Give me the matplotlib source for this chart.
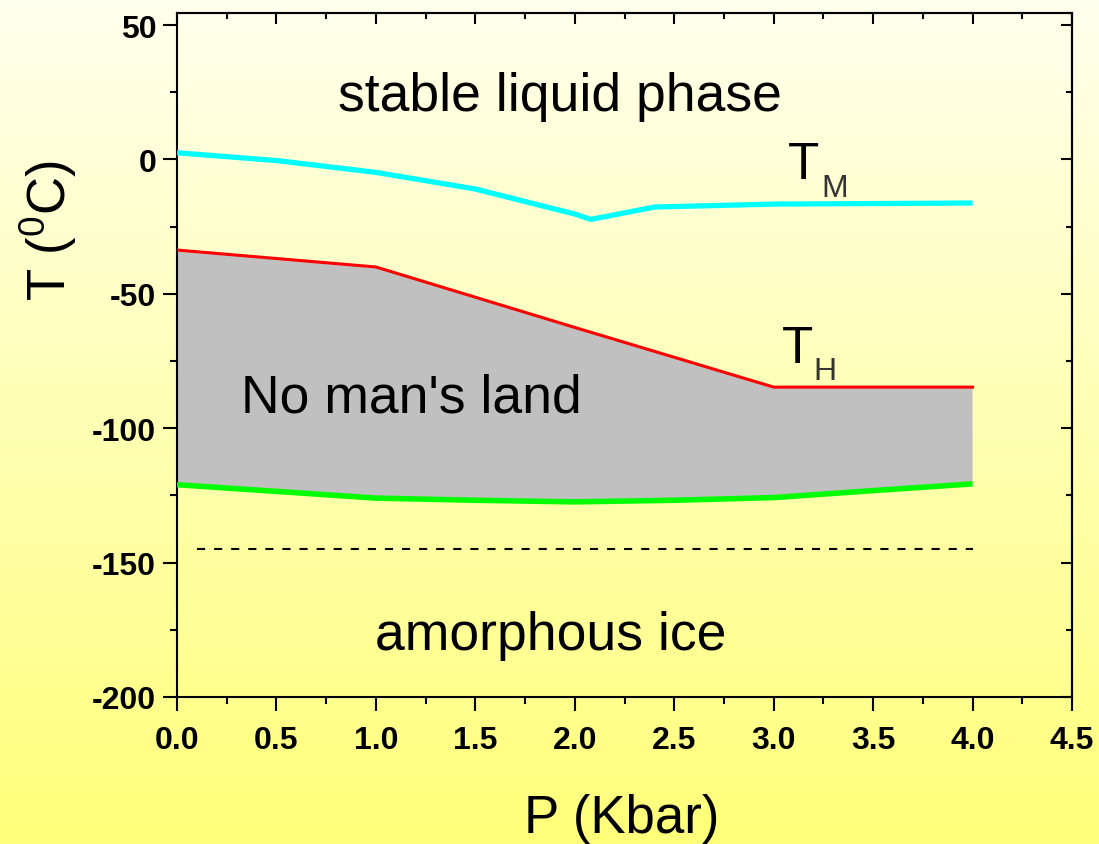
import numpy as np
import matplotlib
matplotlib.use("Agg")
import matplotlib.pyplot as plt
from matplotlib.ticker import MultipleLocator

plt.rcParams['font.family'] = ['Liberation Sans', 'DejaVu Sans']
plt.rcParams['mathtext.fontset'] = 'custom'
plt.rcParams['mathtext.rm'] = 'Liberation Sans'

# Melting line T_M
p_melt = [0.0, 0.5, 1.0, 1.5, 2.0, 2.08, 2.4, 3.0, 3.5, 4.0]
t_melt = [2.5, -0.4, -4.8, -11.0, -20.3, -22.3, -17.7, -16.6, -16.4, -16.2]

# Homogeneous nucleation line T_H
p_hom = [0.0, 1.0, 2.0, 3.0, 4.0]
t_hom = [-33.7, -40.0, -62.5, -84.7, -84.7]

# Lower boundary of no man's land
p_low = [0.0, 0.5, 1.0, 1.5, 2.0, 2.5, 3.0, 3.5, 4.0]
t_low = [-121.0, -123.5, -126.0, -126.8, -127.4, -126.8, -125.8, -123.2, -120.7]

# Glass transition (dashed)
p_glass = [0.1, 4.0]
t_glass = [-144.8, -144.8]

W, H = 1099, 845
fig = plt.figure(figsize=(W / 100, H / 100), dpi=100)

# background gradient
bg = fig.add_axes([0, 0, 1, 1], zorder=-10)
grad = np.linspace(0, 1, 256).reshape(-1, 1)
top = np.array([255, 255, 238]) / 255
bot = np.array([255, 255, 122]) / 255
img = top[None, None, :] * (1 - grad[:, :, None]) + bot[None, None, :] * grad[:, :, None]
bg.imshow(img, aspect='auto', extent=[0, 1, 0, 1], origin='upper')
bg.set_axis_off()

def fx(px):
    return px / W

def fy(py):
    return 1 - py / H

ax = fig.add_axes([fx(177), fy(698), fx(1072) - fx(177), fy(14) - fy(698)])
ax.set_facecolor('none')

# grey region
poly_x = list(p_hom) + list(p_low[::-1])
poly_y = list(t_hom) + list(t_low[::-1])
ax.fill(poly_x, poly_y, color='#c0c0c0', lw=0, zorder=1)

ax.plot(p_melt, t_melt, color='#00ffff', lw=3.8, solid_capstyle='butt', zorder=3)
ax.plot(p_hom, t_hom, color='#ff0000', lw=2.2, zorder=3)
ax.plot(p_low, t_low, color='#00ff00', lw=4.0, solid_capstyle='butt', zorder=3)
ax.plot(p_glass, t_glass, color='black', lw=1.5, dashes=(3.9, 4.3), zorder=3)

ax.set_xlim(0, 4.5)
ax.set_ylim(-200, 54.5)
ax.xaxis.set_major_locator(MultipleLocator(0.5))
ax.xaxis.set_minor_locator(MultipleLocator(0.25))
ax.yaxis.set_major_locator(MultipleLocator(50))
ax.yaxis.set_minor_locator(MultipleLocator(25))
ax.xaxis.set_major_formatter(matplotlib.ticker.FormatStrFormatter('%.1f'))
ax.yaxis.set_major_formatter(matplotlib.ticker.FormatStrFormatter('%d'))

for s in ax.spines.values():
    s.set_linewidth(1.5)

ax.tick_params(which='major', direction='out', length=10, width=1.5, labelsize=23, pad=5)
ax.tick_params(axis='x', which='major', pad=10)
ax.tick_params(which='minor', direction='out', length=5, width=1.5)
for lab in ax.get_xticklabels() + ax.get_yticklabels():
    lab.set_fontweight('bold')

secx = ax.secondary_xaxis('top')
secx.xaxis.set_major_locator(MultipleLocator(0.5))
secx.xaxis.set_minor_locator(MultipleLocator(0.25))
secx.tick_params(which='major', direction='in', length=8, width=1.5, labeltop=False)
secx.tick_params(which='minor', direction='in', length=4, width=1.5)
secx.spines['top'].set_linewidth(1.5)

secy = ax.secondary_yaxis('right')
secy.yaxis.set_major_locator(MultipleLocator(50))
secy.yaxis.set_minor_locator(MultipleLocator(25))
secy.tick_params(which='major', direction='in', length=8, width=1.5, labelright=False)
secy.tick_params(which='minor', direction='in', length=4, width=1.5)
secy.spines['right'].set_linewidth(1.5)

# region labels
ax.text(1.923, 18.4, 'stable liquid phase', fontsize=38.5, ha='center', va='baseline', zorder=5)
ax.text(1.179, -93.6, "No man's land", fontsize=38.5, ha='center', va='baseline', zorder=5)
ax.text(1.88, -182.2, 'amorphous ice', fontsize=38.5, ha='center', va='baseline', zorder=5)

ax.text(3.07, -6.8, 'T', fontsize=37, ha='left', va='baseline', zorder=5)
ax.text(3.24, -13.5, 'M', fontsize=23, ha='left', va='baseline', color='#333333', zorder=5)
ax.text(3.04, -75.2, 'T', fontsize=37, ha='left', va='baseline', zorder=5)
ax.text(3.20, -81.5, 'H', fontsize=23, ha='left', va='baseline', color='#333333', zorder=5)

fig.text(fx(622), fy(833), 'P (Kbar)', fontsize=38, ha='center', va='baseline')
fig.text(fx(48), fy(230), r'T ($\mathregular{^0}$C)', fontsize=38, ha='center', va='center', rotation=90)

fig.savefig('out.png', dpi=100)
